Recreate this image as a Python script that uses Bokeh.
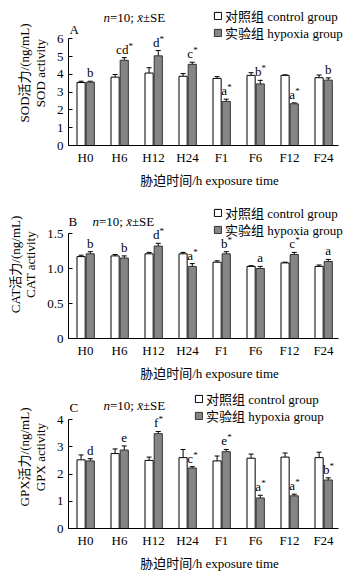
from bokeh.plotting import figure
from bokeh.models import (ColumnDataSource, Range1d, FixedTicker, Whisker, TeeHead,
                          Label, LabelSet, Legend, LegendItem)
from bokeh.layouts import column
from bokeh.embed import file_html
from bokeh.resources import INLINE

# ---------------- data ----------------
categories = ["H0", "H6", "H12", "H24", "F1", "F6", "F12", "F24"]

sod_control = [3.55, 3.85, 4.08, 3.90, 3.78, 3.95, 3.95, 3.82]
sod_control_se = [0.07, 0.15, 0.30, 0.15, 0.10, 0.15, 0.03, 0.15]
sod_hypoxia = [3.57, 4.80, 5.05, 4.57, 2.48, 3.47, 2.35, 3.68]
sod_hypoxia_se = [0.05, 0.15, 0.30, 0.12, 0.13, 0.20, 0.05, 0.13]
sod_letters = ["b", "cd", "d", "c", "a", "b", "a", "b"]
sod_star = [False, True, True, True, True, True, True, False]

cat_control = [1.17, 1.18, 1.21, 1.21, 1.09, 1.03, 1.08, 1.03]
cat_control_se = [0.02, 0.02, 0.02, 0.02, 0.02, 0.01, 0.01, 0.02]
cat_hypoxia = [1.21, 1.15, 1.32, 1.03, 1.21, 1.00, 1.20, 1.10]
cat_hypoxia_se = [0.03, 0.03, 0.04, 0.04, 0.03, 0.03, 0.03, 0.03]
cat_letters = ["b", "b", "d", "a", "b", "a", "c", "a"]
cat_star = [False, False, True, True, True, False, True, False]

gpx_control = [2.52, 2.75, 2.50, 2.60, 2.48, 2.58, 2.62, 2.60]
gpx_control_se = [0.18, 0.17, 0.12, 0.30, 0.18, 0.15, 0.15, 0.20]
gpx_hypoxia = [2.48, 2.88, 3.48, 2.22, 2.82, 1.12, 1.20, 1.78]
gpx_hypoxia_se = [0.08, 0.15, 0.08, 0.05, 0.08, 0.10, 0.06, 0.08]
gpx_letters = ["d", "e", "f", "c", "e", "a", "a", "b"]
gpx_star = [False, False, True, True, True, True, True, True]

legend_labels = ["对照组 control group", "实验组 hypoxia group"]
x_title = "胁迫时间/h exposure time"

FONT = "'Liberation Serif', 'Noto Sans CJK SC', serif"
FS = 13
GRAY = "#858585"
TIMES_W = {"a": 0.444, "b": 0.5, "c": 0.444, "d": 0.5, "e": 0.444, "f": 0.333}


def make_panel(ctrl, ctrl_se, hyp, hyp_se, letters, stars, ymax, ticks, tick_fmt,
               height, top, bottom, ytitle, panel_letter,
               letter_pos, note_pos, legend_pos):
    W = 350
    left = 68
    px_per_unit = 34.0
    x_end_axis = 7.44
    fb = height - bottom          # frame bottom (figure px); frame top is at 0
    fh_axis = height - top - bottom
    yend = ymax * fb / fh_axis
    x_end = -0.5 + (W - left) / px_per_unit
    p = figure(width=W, height=height, output_backend="svg", toolbar_location=None,
               x_range=Range1d(-0.5, x_end), y_range=Range1d(0, yend),
               min_border_left=left, min_border_right=0,
               min_border_top=0, min_border_bottom=bottom)
    p.outline_line_color = None
    p.xgrid.visible = False
    p.ygrid.visible = False
    p.background_fill_color = "white"
    p.border_fill_color = "white"

    n = len(categories)
    xs = list(range(n))
    bw = 0.24
    xc = [x - 0.13 for x in xs]
    xh = [x + 0.14 for x in xs]
    src_c = ColumnDataSource(dict(x=xc, top=ctrl, up=[v + e for v, e in zip(ctrl, ctrl_se)]))
    src_h = ColumnDataSource(dict(x=xh, top=hyp, up=[v + e for v, e in zip(hyp, hyp_se)]))

    r_c = p.vbar(x="x", top="top", bottom=0, width=bw, source=src_c,
                 fill_color="white", line_color="black", line_width=1)
    r_h = p.vbar(x="x", top="top", bottom=0, width=bw, source=src_h,
                 fill_color=GRAY, line_color="#333333", line_width=1)

    for s in (src_c, src_h):
        p.add_layout(Whisker(base="x", lower="top", upper="up", source=s,
                             line_color="black", line_width=1,
                             upper_head=TeeHead(size=5, line_color="black", line_width=1),
                             lower_head=None))

    # significance letters (letter + raised small asterisk)
    lw = [sum(TIMES_W[c] for c in L) * FS for L in letters]
    sw = [4.0 if s else 0.0 for s in stars]
    up_h = [v + e for v, e in zip(hyp, hyp_se)]
    lsrc = ColumnDataSource(dict(x=xh, y=up_h, t=letters,
                                 xo=[-(a + b) / 2 for a, b in zip(lw, sw)]))
    p.add_layout(LabelSet(x="x", y="y", text="t", source=lsrc, x_offset="xo",
                          y_offset=4, text_align="left", text_baseline="alphabetic",
                          text_font=FONT, text_font_size=f"{FS}px",
                          text_color="black"))
    sx = [x for x, s in zip(xh, stars) if s]
    sy = [y for y, s in zip(up_h, stars) if s]
    so = [-(a + b) / 2 + a for a, b, s in zip(lw, sw, stars) if s]
    ssrc = ColumnDataSource(dict(x=sx, y=sy, t=["*"] * len(sx), xo=so))
    p.add_layout(LabelSet(x="x", y="y", text="t", source=ssrc, x_offset="xo",
                          y_offset=9, text_align="left", text_baseline="alphabetic",
                          text_font=FONT, text_font_size="9px",
                          text_color="black"))

    # axes
    xa = p.xaxis[0]
    xa.bounds = (-0.5, x_end_axis)
    xa.ticker = FixedTicker(ticks=xs)
    xa.major_label_overrides = {i: c for i, c in enumerate(categories)}
    xa.major_tick_in = 0
    xa.major_tick_out = 0
    xa.minor_tick_line_color = None
    xa.axis_line_color = "black"
    xa.major_label_text_font = FONT
    xa.major_label_text_font_size = f"{FS}px"
    xa.major_label_text_color = "black"
    xa.major_label_standoff = 4
    xa.axis_label = x_title
    xa.axis_label_text_font = FONT
    xa.axis_label_text_font_size = f"{FS}px"
    xa.axis_label_text_font_style = "normal"
    xa.axis_label_text_color = "black"
    xa.axis_label_standoff = 5

    ya = p.yaxis[0]
    ya.bounds = (0, ymax)
    ya.ticker = FixedTicker(ticks=ticks)
    ya.major_label_overrides = {t: tick_fmt(t) for t in ticks}
    ya.major_tick_in = 4
    ya.major_tick_out = 0
    ya.minor_tick_line_color = None
    ya.axis_line_color = "black"
    ya.major_label_text_font = FONT
    ya.major_label_text_font_size = f"{FS}px"
    ya.major_label_text_color = "black"
    ya.major_label_standoff = 5
    ya.axis_label = ytitle
    ya.axis_label_text_font = FONT
    ya.axis_label_text_font_size = f"{FS}px"
    ya.axis_label_text_font_style = "normal"
    ya.axis_label_text_color = "black"
    ya.axis_label_text_line_height = 1.05
    ya.axis_label_standoff = 6

    # panel letter
    p.add_layout(Label(x=letter_pos[0] - left, y=fb - letter_pos[1], x_units="screen",
                       y_units="screen", text=panel_letter, text_align="left",
                       text_baseline="middle", text_font=FONT,
                       text_font_size=f"{FS}px", text_color="black"))

    # n=10; x̄±SE
    pieces = [("n", "italic", 0.5), ("=10; ", "normal", 2.092),
              ("x\u0304", "italic", 0.444), ("±SE", "normal", 1.731)]
    cx = note_pos[0]
    for t, st, w in pieces:
        p.add_layout(Label(x=cx - left, y=fb - note_pos[1], x_units="screen",
                           y_units="screen", text=t, text_align="left",
                           text_baseline="middle", text_font=FONT,
                           text_font_style=st, text_font_size=f"{FS}px",
                           text_color="black"))
        cx += w * FS

    # legend: one legend per row for exact placement
    for i, (lab, r) in enumerate(((legend_labels[0], r_c), (legend_labels[1], r_h))):
        cy = legend_pos[1] + i * 17
        leg = Legend(items=[LegendItem(label=lab, renderers=[r])],
                     location=(legend_pos[0] - left, fb - (cy + 10)),
                     glyph_width=9, glyph_height=9, label_standoff=3, spacing=0,
                     padding=0, margin=0, border_line_color=None,
                     background_fill_alpha=0, label_text_font=FONT,
                     label_text_font_size=f"{FS}px", label_text_color="black",
                     label_height=13)
        p.add_layout(leg)
    return p


def fmt_int(t):
    return str(int(t))


def fmt_one(t):
    return "0" if t == 0 else f"{t:.1f}"


pA = make_panel(sod_control, sod_control_se, sod_hypoxia, sod_hypoxia_se,
                sod_letters, sod_star, 6, [0, 1, 2, 3, 4, 5, 6], fmt_int,
                190, 39, 43, "SOD活力/(ng/mL)\nSOD activity", "A",
                (69, 31), (103, 19), (213, 16.5))
pB = make_panel(cat_control, cat_control_se, cat_hypoxia, cat_hypoxia_se,
                cat_letters, cat_star, 1.5, [0, 0.5, 1.0, 1.5], fmt_one,
                195, 43, 47, "CAT活力/(ng/mL)\nCAT activity", "B",
                (68, 31), (92, 31), (213, 22))
pC = make_panel(gpx_control, gpx_control_se, gpx_hypoxia, gpx_hypoxia_se,
                gpx_letters, gpx_star, 4, [0, 1, 2, 3, 4], fmt_int,
                188, 34, 45, "GPX活力/(ng/mL)\nGPX activity", "C",
                (69, 22), (103, 20), (194, 12.5))

layout = column(pA, pB, pC, spacing=0)
open("out.html", "w").write(file_html(layout, INLINE))
